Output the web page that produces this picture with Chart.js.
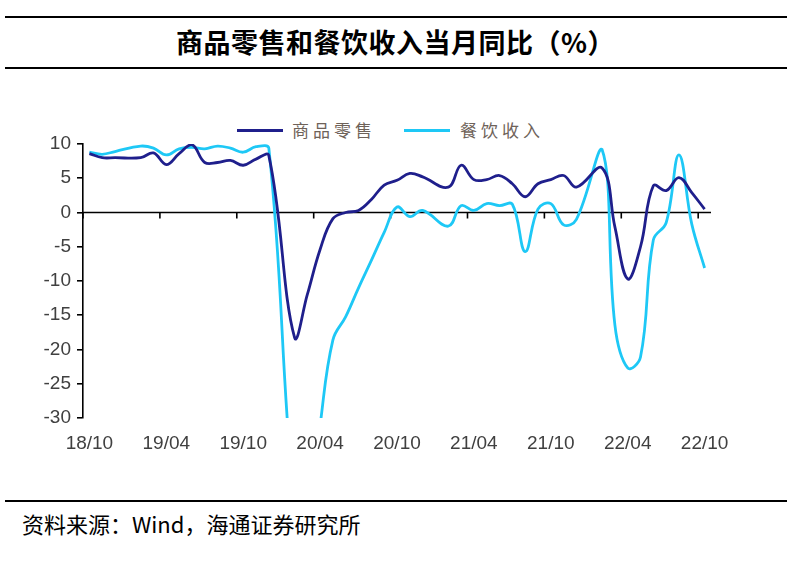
<!DOCTYPE html>
<html>
<head>
<meta charset="utf-8">
<script src="https://cdn.jsdelivr.net/npm/chart.js@4"></script>
<style>
  html, body { margin:0; padding:0; background:#fff; }
  body { width:791px; height:570px; position:relative; overflow:hidden; }
  .rule { position:absolute; left:5px; width:782px; height:2px; background:#000; }
  #title { position:absolute; left:0; width:791px; top:23px; text-align:center;
           font-family:"Noto Sans CJK SC", sans-serif; font-weight:bold; font-size:27px; line-height:38px; color:#000; letter-spacing:0.5px; }
  #source { position:absolute; left:22px; top:507px; font-family:"Noto Sans CJK SC", sans-serif;
            font-size:22px; line-height:32px; color:#000; }
  #wrap { position:absolute; left:0; top:0; width:791px; height:570px; }
  .leg { position:absolute; top:118px; font-family:"Noto Sans CJK SC", serif; font-size:17px; line-height:24px;
         color:#6e6259; letter-spacing:4px; }
  .sw { position:absolute; top:129px; height:3px; width:46px; }
</style>
</head>
<body>
<div class="rule" style="top:16px"></div>
<div id="title">商品零售和餐饮收入当月同比（%）</div>
<div class="rule" style="top:67px"></div>
<div class="sw" style="left:237px; background:#1f1f8c"></div>
<div class="leg" style="left:292px">商品零售</div>
<div class="sw" style="left:404px; background:#1ec8f6"></div>
<div class="leg" style="left:460px">餐饮收入</div>
<div class="rule" style="top:500px"></div>
<div id="source">资料来源：Wind，海通证券研究所</div>
<div id="wrap"><canvas id="c" width="791" height="570"></canvas></div>
<script>
const months = [
  "18/10","18/11","18/12",
  "19/01","19/02","19/03","19/04","19/05","19/06","19/07","19/08","19/09","19/10","19/11","19/12",
  "20/01","20/02","20/03","20/04","20/05","20/06","20/07","20/08","20/09","20/10","20/11","20/12",
  "21/01","21/02","21/03","21/04","21/05","21/06","21/07","21/08","21/09","21/10","21/11","21/12",
  "22/01","22/02","22/03","22/04","22/05","22/06","22/07","22/08","22/09","22/10"
];
const goodsRetail = [
  8.6, 8.0, 8.0,
  null, 8.0, 8.7, 7.0, 8.6, 9.9, 7.3, 7.3, 7.6, 6.9, 7.8, 8.3,
  null, -18.2, -12.0, -5.4, -0.9, 0.0, 0.3, 1.9, 4.0, 4.7, 5.7, 5.2,
  null, 3.7, 6.9, 4.8, 4.8, 5.4, 4.2, 2.3, 4.2, 4.8, 5.4, 3.7,
  null, 6.5, -2.1, -9.7, -5.0, 3.9, 3.2, 5.1, 2.9, 0.5
];
const cateringIncome = [
  8.8, 8.5, 8.9,
  null, 9.7, 9.4, 8.4, 9.3, 9.5, 9.3, 9.7, 9.4, 8.8, 9.6, 9.4,
  null, -43.1, -46.8, -31.1, -18.6, -15.2, -11.0, -7.0, -2.9, 0.8, -0.6, 0.3,
  null, -2.0, 1.0, 0.3, 1.3, 1.0, 1.2, -5.7, 0.5, 1.3, -1.8, -1.0,
  null, 9.2, -16.4, -22.7, -21.1, -4.0, -1.5, 8.4, -1.7, -8.1
];
const yMin = -30, yMax = 10, yStep = 5, labelEvery = 6;

const zeroAxis = {
  id: 'zeroAxis',
  beforeDatasetsDraw(chart) {
    const { ctx, chartArea, scales: { x, y } } = chart;
    const y0 = y.getPixelForValue(0);
    const half = (x.getPixelForValue(1) - x.getPixelForValue(0)) / 2;
    ctx.save();
    ctx.strokeStyle = '#000';
    ctx.lineWidth = 1.6;
    ctx.beginPath();
    ctx.moveTo(chartArea.left, y0);
    ctx.lineTo(chartArea.right, y0);
    for (let i = 0; i < months.length; i += labelEvery) {
      const px = x.getPixelForValue(i) - half;
      ctx.moveTo(px, y0);
      ctx.lineTo(px, y0 + 6);
    }
    ctx.stroke();
    ctx.restore();
  }
};

new Chart(document.getElementById('c'), {
  type: 'line',
  data: {
    labels: months,
    datasets: [
      { label: '商品零售', data: goodsRetail, borderColor: '#1f1f8c', borderWidth: 2.8,
        pointRadius: 0, tension: 0.4, spanGaps: true, fill: false },
      { label: '餐饮收入', data: cateringIncome, borderColor: '#1ec8f6', borderWidth: 2.8,
        pointRadius: 0, tension: 0.4, spanGaps: true, fill: false }
    ]
  },
  options: {
    responsive: false,
    animation: false,
    devicePixelRatio: 1,
    layout: { padding: { left: 0, right: 80, top: 144, bottom: 112 } },
    plugins: { legend: { display: false }, tooltip: { enabled: false }, title: { display: false } },
    scales: {
      x: {
        type: 'category',
        offset: true,
        grid: { display: false, drawTicks: false },
        border: { display: false },
        ticks: {
          autoSkip: false, maxRotation: 0, minRotation: 0, padding: 14,
          color: '#404040', font: { family: 'Liberation Sans, Arial, sans-serif', size: 19 },
          callback: function (v, i) { return i % labelEvery === 0 ? months[i] : ''; }
        },
        afterFit(scale) { scale.height = 40; }
      },
      y: {
        min: yMin, max: yMax,
        ticks: { stepSize: yStep, padding: 6, color: '#404040',
                 font: { family: 'Liberation Sans, Arial, sans-serif', size: 19 } },
        grid: { display: true, drawOnChartArea: false, drawTicks: true, tickLength: 6,
                color: '#000', lineWidth: 1.6 },
        border: { display: true, color: '#000', width: 1.6 },
        afterFit(scale) { scale.width = 83; }
      }
    }
  },
  plugins: [zeroAxis]
});
</script>
</body>
</html>
